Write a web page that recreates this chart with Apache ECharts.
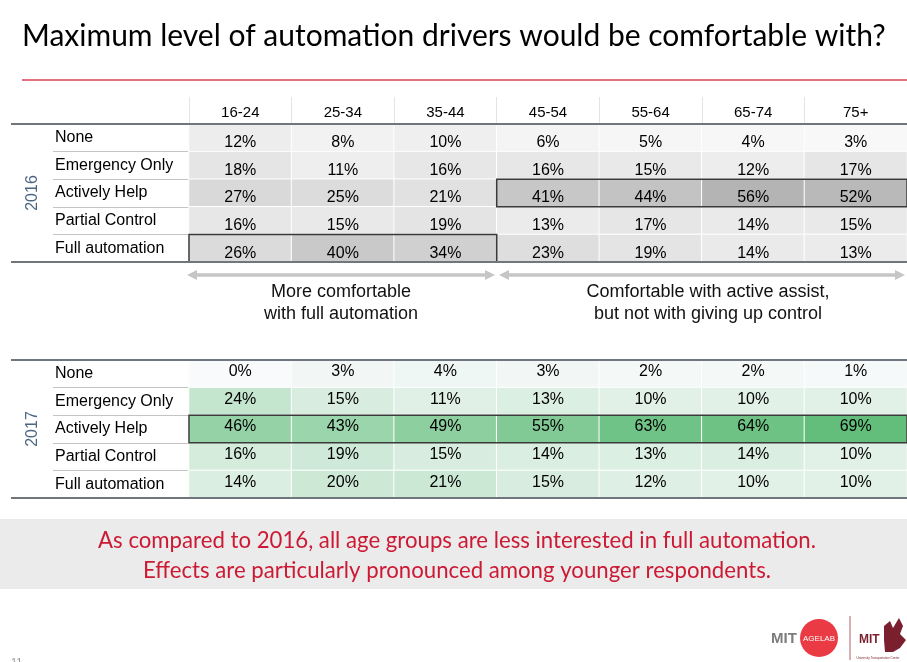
<!DOCTYPE html>
<html>
<head>
<meta charset="utf-8">
<script src="https://cdn.jsdelivr.net/npm/echarts@6/dist/echarts.min.js"></script>
<style>html,body{margin:0;padding:0;background:#fff;}#c{width:907px;height:662px;}</style>
</head>
<body>
<div id="c"></div>
<script>
// ---- data ----
const ages = ['16-24','25-34','35-44','45-54','55-64','65-74','75+'];
const levels = ['None','Emergency Only','Actively Help','Partial Control','Full automation'];

const none2016      = [12, 8, 10, 6, 5, 4, 3];
const emergency2016 = [18, 11, 16, 16, 15, 12, 17];
const active2016    = [27, 25, 21, 41, 44, 56, 52];
const partial2016   = [16, 15, 19, 13, 17, 14, 15];
const full2016      = [26, 40, 34, 23, 19, 14, 13];

const none2017      = [0, 3, 4, 3, 2, 2, 1];
const emergency2017 = [24, 15, 11, 13, 10, 10, 10];
const active2017    = [46, 43, 49, 55, 63, 64, 69];
const partial2017   = [16, 19, 15, 14, 13, 14, 10];
const full2017      = [14, 20, 21, 15, 12, 10, 10];

// highlighted boxes: [fromAgeIndex, toAgeIndex, levelIndex]
const highlights2016 = [[0, 2, 4], [3, 6, 2]];
const highlights2017 = [[0, 6, 2]];

const title = 'Maximum level of automation drivers would be comfortable with?';
const noteLeft = ['More comfortable', 'with full automation'];
const noteRight = ['Comfortable with active assist,', 'but not with giving up control'];
const conclusion = ['As compared to 2016, all age groups are less interested in full automation.',
                    'Effects are particularly pronounced among younger respondents.'];

// ---- build ----
function cells(rows) {
  const out = [];
  rows.forEach((r, yi) => r.forEach((v, xi) => out.push([xi, yi, v])));
  return out;
}
const data2016 = cells([none2016, emergency2016, active2016, partial2016, full2016]);
const data2017 = cells([none2017, emergency2017, active2017, partial2017, full2017]);

const FONT = 'Liberation Sans, Arial, sans-serif';
const G = { left: 189, width: 718, top1: 124, top2: 360, h: 138 };

function yAxis(gi, name) {
  return {
    type: 'category', gridIndex: gi, data: levels, inverse: true,
    axisLine: { show: false },
    axisTick: { show: true, length: 136, lineStyle: { color: '#c4c4c4', width: 1 } },
    axisLabel: { margin: 134, align: 'left', color: '#000', fontSize: 16, fontFamily: FONT },
    name: name, nameLocation: 'middle', nameRotate: 90, nameGap: 148,
    nameTextStyle: { color: '#4b6784', fontSize: 16, fontFamily: FONT }
  };
}

function boxSeries(gi, data) {
  return {
    type: 'custom', xAxisIndex: gi, yAxisIndex: gi, z: 5, silent: true,
    data: data, encode: { x: [0, 1], y: 2 },
    renderItem(params, api) {
      const a = api.coord([api.value(0), api.value(2)]);
      const b = api.coord([api.value(1), api.value(2)]);
      const s = api.size([1, 1]);
      return {
        type: 'rect',
        shape: { x: a[0] - s[0] / 2, y: a[1] - s[1] / 2, width: b[0] - a[0] + s[0], height: s[1] },
        style: { fill: 'none', stroke: '#3a3a3a', lineWidth: 1.5 }
      };
    }
  };
}

function heat(gi, data, dy) {
  return {
    type: 'heatmap', xAxisIndex: gi, yAxisIndex: gi, data: data,
    itemStyle: { borderColor: '#ffffff', borderWidth: 1 },
    label: { show: true, formatter: p => p.value[2] + '%', color: '#000', fontSize: 16, fontFamily: FONT, offset: [0, dy] },
    emphasis: { disabled: true }
  };
}

function arrow(x1, x2, y) {
  const c = '#c6c6c6';
  return [
    { type: 'line', shape: { x1: x1 + 6, y1: y, x2: x2 - 6, y2: y }, style: { stroke: c, lineWidth: 3.5 } },
    { type: 'polygon', shape: { points: [[x1, y], [x1 + 10, y - 5], [x1 + 10, y + 5]] }, style: { fill: c } },
    { type: 'polygon', shape: { points: [[x2, y], [x2 - 10, y - 5], [x2 - 10, y + 5]] }, style: { fill: c } }
  ];
}

function hline(y, x1, x2, color, w) {
  return { type: 'line', shape: { x1: x1, y1: y, x2: x2, y2: y }, style: { stroke: color, lineWidth: w }, z: 10 };
}

const chart = echarts.init(document.getElementById('c'), null, { renderer: 'canvas' });

const graphics = [
  { type: 'text', x: 22, y: 36, style: { text: title, font: '30px Lato, sans-serif', fill: '#000', textVerticalAlign: 'middle' } },
  hline(80, 22, 907, '#e2717d', 2),
  hline(G.top1, 11, 907, '#6f767e', 2),
  hline(G.top1 + G.h, 11, 907, '#6f767e', 2),
  hline(G.top2, 11, 907, '#6f767e', 2),
  hline(G.top2 + G.h, 11, 907, '#6f767e', 2),
  ...arrow(187, 495, 275),
  ...arrow(499, 905, 275),
  { type: 'text', x: 341, y: 303, style: { text: noteLeft.join('\n'), font: '18px ' + FONT, fill: '#111', textAlign: 'center', textVerticalAlign: 'middle', lineHeight: 22 } },
  { type: 'text', x: 708, y: 303, style: { text: noteRight.join('\n'), font: '18px ' + FONT, fill: '#111', textAlign: 'center', textVerticalAlign: 'middle', lineHeight: 22 } },
  { type: 'rect', shape: { x: 0, y: 519, width: 907, height: 70 }, style: { fill: '#ebebeb' } },
  { type: 'text', x: 457, y: 541, style: { text: conclusion[0], font: '22.2px Lato, sans-serif', fill: '#cc1a35', textAlign: 'center', textVerticalAlign: 'middle' } },
  { type: 'text', x: 457, y: 571, style: { text: conclusion[1], font: '22.2px Lato, sans-serif', fill: '#cc1a35', textAlign: 'center', textVerticalAlign: 'middle' } },
  // logos
  { type: 'text', x: 771, y: 639, style: { text: 'MIT', font: 'bold 15px ' + FONT, fill: '#7c7c7c', textVerticalAlign: 'middle' } },
  { type: 'circle', shape: { cx: 819, cy: 638, r: 19 }, style: { fill: '#ea3a44' } },
  { type: 'text', x: 819, y: 639, style: { text: 'AGELAB', font: '8px ' + FONT, fill: '#fff', textAlign: 'center', textVerticalAlign: 'middle' } },
  { type: 'line', shape: { x1: 850, y1: 616, x2: 850, y2: 660 }, style: { stroke: '#b05a66', lineWidth: 1 } },
  { type: 'text', x: 859, y: 640, style: { text: 'MIT', font: 'bold 12px ' + FONT, fill: '#7a1f2e', textVerticalAlign: 'middle' } },
  { type: 'polygon', shape: { points: [[884, 626], [890, 621], [893, 628], [899, 618], [903, 626], [900, 634], [906, 640], [900, 648], [893, 652], [885, 652], [884, 640]] }, style: { fill: '#7a1f2e' } },
  { type: 'text', x: 878, y: 658, style: { text: 'University Transportation Center', font: '3px ' + FONT, fill: '#7a1f2e', textAlign: 'center', textVerticalAlign: 'middle' } },
  { type: 'text', x: 11, y: 657, style: { text: '11', font: '11px ' + FONT, fill: '#9a9a9a' } }
];

chart.setOption({
  animation: false,
  grid: [
    { left: G.left, top: G.top1, width: G.width, height: G.h },
    { left: G.left, top: G.top2, width: G.width, height: G.h }
  ],
  xAxis: [
    { type: 'category', gridIndex: 0, data: ages, position: 'top',
      axisLine: { show: false },
      axisTick: { show: true, length: 27, interval: 0, lineStyle: { color: '#e4e4e4', width: 1 } },
      axisLabel: { margin: 4, color: '#000', fontSize: 15, fontFamily: FONT } },
    { type: 'category', gridIndex: 1, data: ages, show: false }
  ],
  yAxis: [yAxis(0, '2016'), yAxis(1, '2017')],
  visualMap: [
    { show: false, seriesIndex: 0, min: 0, max: 56, inRange: { color: ['#fcfcfc', '#b4b4b4'] } },
    { show: false, seriesIndex: 2, min: 0, max: 69, inRange: { color: ['#f8fafb', '#63be7b'] } }
  ],
  series: [
    heat(0, data2016, 5),
    boxSeries(0, highlights2016),
    heat(1, data2017, -2),
    boxSeries(1, highlights2017)
  ],
  graphic: graphics
});
</script>
</body>
</html>
